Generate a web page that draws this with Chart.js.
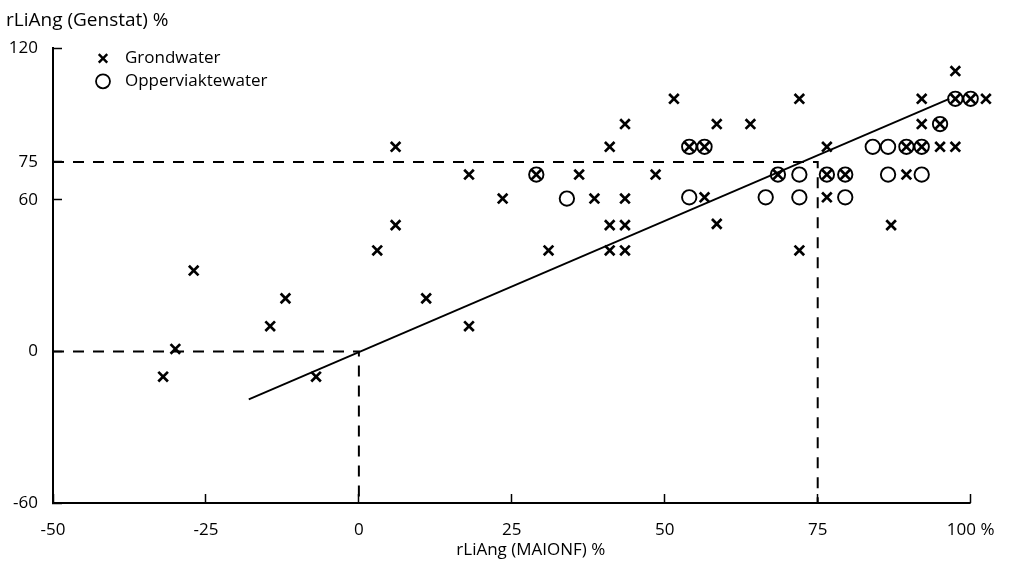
<!DOCTYPE html>
<html><head><meta charset="utf-8">
<script src="https://cdn.jsdelivr.net/npm/chart.js@4.4.0/dist/chart.umd.min.js"></script>
<style>html,body{margin:0;padding:0;background:#fff;overflow:hidden}canvas{display:block}</style>
</head><body>
<canvas id="c" width="1016" height="571"></canvas>
<script>
// ---- data ----
const xTitle = 'rLiAng (MAIONF) %';
const yTitle = 'rLiAng (Genstat) %';
const seriesNames = ['Grondwater', 'Opperviaktewater'];
const xTicks = [-50, -25, 0, 25, 50, 75, 100];
const yTicks = [-60, 0, 60, 75, 120];

const grondX = [-32, -30, -27, -14.5, -12, -7, 3, 6, 6, 11, 18, 18, 23.5, 29, 31, 36, 38.5, 41, 41, 41, 43.5, 43.5, 43.5, 43.5, 48.5, 51.5, 54, 56.5, 56.5, 58.5, 58.5, 64, 68.5, 72, 72, 76.5, 76.5, 76.5, 79.5, 87, 89.5, 89.5, 92, 92, 92, 95, 95, 97.5, 97.5, 97.5, 100, 102.5];
const grondY = [-10, 1, 32, 10, 21, -10, 40, 50, 81, 21, 10, 70, 60.5, 70, 40, 70, 60.5, 81, 50, 40, 50, 40, 60.5, 90, 70, 100, 81, 81, 61, 90, 50.5, 90, 70, 100, 40, 81, 70, 61, 70, 50, 81, 70, 81, 100, 90, 90, 81, 81, 111, 100, 100, 100];

const opperX = [29, 34, 54, 56.5, 54, 66.5, 68.5, 72, 72, 76.5, 79.5, 79.5, 84, 86.5, 89.5, 92, 86.5, 92, 95, 97.5, 100];
const opperY = [70, 60.5, 81, 81, 61, 61, 70, 70, 61, 70, 70, 61, 81, 81, 81, 81, 70, 70, 90, 100, 100];

const fitX = [-18, 96.5];
const fitY = [-19, 100];
const ref75X = [-50, 75, 75];
const ref75Y = [75, 75, -60];
const ref0X = [-50, 0, 0];
const ref0Y = [0, 0, -60];
const xAxisX = [-50, 100];      // drawn extent of the x axis
const xAxisY = [-60, -60];
const xRange = [-50, 103];      // plotted range (one point lies just past 100)
const yRange = [-60, 120];

// ---- helpers ----
const pts = (xs, ys) => xs.map((x, i) => ({x: x, y: ys[i]}));
const FONT = "'Open Sans', 'DejaVu Sans', sans-serif";
const INK = '#000';

const legendPlugin = {
  id: 'innerLegendAndXTitle',
  afterDatasetsDraw(chart) {
    const ctx = chart.ctx;
    const area = chart.chartArea;
    const xs = chart.scales.x;
    ctx.save();
    // legend inside plot area (top-left)
    const entries = chart.data.datasets.filter(d => d.showInLegend);
    entries.forEach((ds, i) => {
      const mx = area.left + 50;
      const my = area.top + 10 + i * 23;
      ctx.strokeStyle = ds.borderColor;
      ctx.fillStyle = 'rgba(0,0,0,0)';
      ctx.lineWidth = ds.legendBorderWidth;
      Chart.helpers.drawPoint(ctx, {pointStyle: ds.pointStyle, radius: ds.legendRadius, borderWidth: ds.legendBorderWidth, rotation: 0}, mx, my);
      ctx.fillStyle = INK;
      ctx.font = '17px ' + FONT;
      ctx.textAlign = 'left';
      ctx.textBaseline = 'middle';
      ctx.fillText(ds.label, mx + 22, my);
    });
    // x-axis title
    const cx = (xs.getPixelForValue(xAxisX[0]) + xs.getPixelForValue(xAxisX[1])) / 2 + 19;
    ctx.fillStyle = INK;
    ctx.font = '17px ' + FONT;
    ctx.textAlign = 'center';
    ctx.textBaseline = 'middle';
    ctx.fillText(xTitle, cx, area.bottom + 47);
    ctx.restore();
  }
};

new Chart(document.getElementById('c'), {
  type: 'scatter',
  data: {
    datasets: [
      {
        label: 'axis', type: 'line', data: pts(xAxisX, xAxisY),
        borderColor: INK, borderWidth: 2, pointRadius: 0, fill: false, tension: 0, clip: false
      },
      {
        label: 'ref75', type: 'line', data: pts(ref75X, ref75Y),
        borderColor: INK, borderWidth: 2, borderDash: [11, 9], pointRadius: 0, fill: false, tension: 0
      },
      {
        label: 'ref0', type: 'line', data: pts(ref0X, ref0Y),
        borderColor: INK, borderWidth: 2, borderDash: [11, 9], pointRadius: 0, fill: false, tension: 0
      },
      {
        label: 'fit', type: 'line', data: pts(fitX, fitY),
        borderColor: INK, borderWidth: 1.8, pointRadius: 0, fill: false, tension: 0
      },
      {
        label: seriesNames[0], data: pts(grondX, grondY), showInLegend: true,
        pointStyle: 'crossRot', pointRadius: 6.8, borderWidth: 2.7, borderColor: INK, backgroundColor: INK,
        legendRadius: 6, legendBorderWidth: 2.4, clip: false
      },
      {
        label: seriesNames[1], data: pts(opperX, opperY), showInLegend: true,
        pointStyle: 'circle', pointRadius: 7.2, borderWidth: 1.9, borderColor: INK, backgroundColor: 'rgba(0,0,0,0)',
        legendRadius: 7, legendBorderWidth: 1.8, clip: false
      }
    ]
  },
  options: {
    responsive: false,
    devicePixelRatio: 1,
    animation: false,
    events: [],
    layout: {padding: {left: 6, right: 27, top: 0, bottom: 0}},
    plugins: {
      legend: {display: false},
      tooltip: {enabled: false},
      title: {
        display: true, text: yTitle, align: 'start', color: INK,
        font: {family: FONT, size: 19, weight: 'normal'},
        padding: {top: 9, bottom: 16.5}
      }
    },
    scales: {
      x: {
        type: 'linear', bounds: 'data',
        afterDataLimits: s => { s.min = xRange[0]; s.max = xRange[1]; },
        afterBuildTicks: s => { s.min = xRange[0]; s.max = xRange[1]; s.ticks = xTicks.map(v => ({value: v})); },
        afterFit: s => { s.height = 68; s.paddingLeft = 0; s.paddingRight = 0; },
        border: {display: false},
        grid: {drawOnChartArea: false, drawTicks: true, tickLength: -9, tickColor: INK, tickWidth: 1.5},
        ticks: {
          color: INK, font: {family: FONT, size: 17}, padding: 26, maxRotation: 0, autoSkip: false,
          callback: v => (v === 100 ? '100 %' : String(v))
        }
      },
      y: {
        type: 'linear', bounds: 'data',
        afterDataLimits: s => { s.min = yRange[0]; s.max = yRange[1]; },
        afterBuildTicks: s => { s.min = yRange[0]; s.max = yRange[1]; s.ticks = yTicks.map(v => ({value: v})); },
        afterFit: s => { s.width = 47; s.paddingTop = 0; s.paddingBottom = 0; },
        border: {display: true, color: INK, width: 2},
        grid: {drawOnChartArea: false, drawTicks: true, tickLength: -9, tickColor: INK, tickWidth: 1.5},
        ticks: {color: INK, font: {family: FONT, size: 17}, padding: 24, autoSkip: false}
      }
    }
  },
  plugins: [legendPlugin]
});
</script>
</body></html>
